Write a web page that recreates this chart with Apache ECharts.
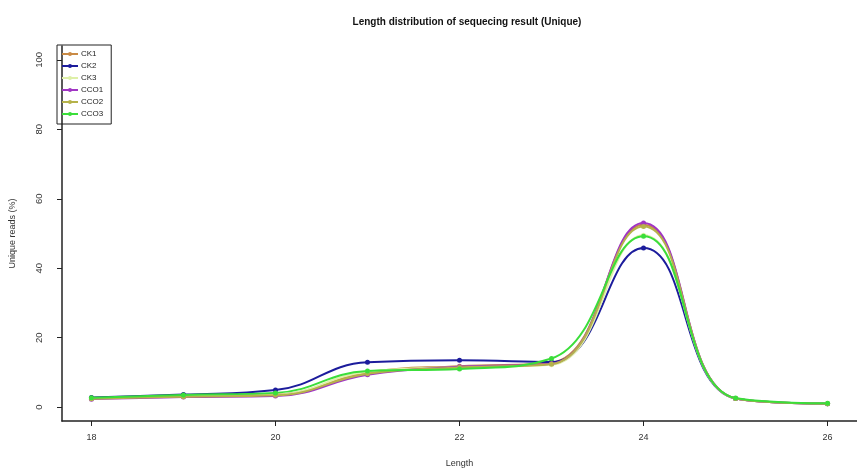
<!DOCTYPE html>
<html>
<head>
<meta charset="utf-8">
<script src="https://cdn.jsdelivr.net/npm/echarts@6/dist/echarts.min.js"></script>
<style>
  html, body { margin: 0; padding: 0; background: #fff; }
  #chart { width: 857px; height: 473px; }
</style>
</head>
<body>
<div id="chart"></div>
<script>
// read length (nt) and unique reads (%) off the reference
const lengths = [18, 19, 20, 21, 22, 23, 24, 25, 26];
const ck1 = [2.6, 3.2, 3.6, 10.0, 11.8, 12.8, 52.5, 2.5, 1.0];
const ck2 = [2.8, 3.6, 4.9, 12.9, 13.5, 13.0, 45.8, 2.5, 1.0];
const ck3 = [2.5, 3.1, 3.5, 10.2, 11.5, 12.2, 49.5, 2.5, 1.0];
const cco1 = [2.3, 2.9, 3.2, 9.3, 11.6, 12.5, 53.0, 2.5, 1.0];
const cco2 = [2.4, 3.0, 3.4, 9.6, 11.4, 12.4, 52.0, 2.5, 1.0];
const cco3 = [2.7, 3.5, 4.1, 10.4, 11.0, 14.0, 49.2, 2.6, 1.1];
const xTicks = [18, 20, 22, 24, 26];
const yTicks = [0, 20, 40, 60, 80, 100];

const names = ["CK1", "CK2", "CK3", "CCO1", "CCO2", "CCO3"];
const values = [ck1, ck2, ck3, cco1, cco2, cco3];
const colors = ["#c98a45", "#1c1c9c", "#def0a8", "#a035c4", "#b5b24a", "#3ade3a"];

const font = "Liberation Sans, Arial, sans-serif";

let myChart = echarts.init(document.getElementById("chart"));
myChart.setOption({
  animation: false,
  backgroundColor: "#fff",
  title: {
    text: "Length distribution of sequecing result (Unique)",
    left: 462,
    textAlign: "center",
    top: 12,
    textStyle: { fontFamily: font, fontSize: 10, fontWeight: "bold", color: "#111" },
  },
  legend: {
    left: 57,
    top: 45,
    orient: "vertical",
    itemWidth: 16,
    itemHeight: 5,
    itemGap: 4,
    padding: [5, 8, 6, 4],
    borderColor: "#222",
    borderWidth: 1,
    textStyle: { fontFamily: font, fontSize: 8, color: "#222", padding: [0, 0, 0, -2] },
    data: names,
  },
  grid: {
    left: 57,
    right: -8,
    top: 46,
    bottom: 50,
  },
  xAxis: {
    type: "value",
    min: 17.68,
    max: 26.32,
    name: "Length",
    nameLocation: "middle",
    nameGap: 38,
    nameTextStyle: { fontFamily: font, fontSize: 9, color: "#333" },
    axisLine: { onZero: false, lineStyle: { color: "#222", width: 1.5 } },
    axisTick: { customValues: xTicks, length: 5, lineStyle: { color: "#222" } },
    axisLabel: {
      customValues: xTicks,
      margin: 12,
      fontFamily: font,
      fontSize: 9,
      color: "#333",
    },
    splitLine: { show: false },
  },
  yAxis: {
    type: "value",
    min: -4,
    max: 104,
    name: "Unique reads (%)",
    nameLocation: "middle",
    nameGap: 45,
    nameRotate: 90,
    nameTextStyle: { fontFamily: font, fontSize: 9, color: "#333" },
    axisLine: { show: true, onZero: false, lineStyle: { color: "#222", width: 1.5 } },
    axisTick: { show: true, customValues: yTicks, length: 5, lineStyle: { color: "#222" } },
    axisLabel: {
      customValues: yTicks,
      rotate: 90,
      margin: 18,
      fontFamily: font,
      fontSize: 9.5,
      color: "#333",
    },
    splitLine: { show: false },
  },
  series: names.map(function (name, i) {
    return {
      name: name,
      type: "line",
      smooth: 0.45,
      symbol: "circle",
      symbolSize: 5,
      clip: true,
      itemStyle: { color: colors[i] },
      lineStyle: { color: colors[i], width: 2 },
      data: lengths.map(function (x, j) {
        return [x, values[i][j]];
      }),
    };
  }),
});
</script>
</body>
</html>
